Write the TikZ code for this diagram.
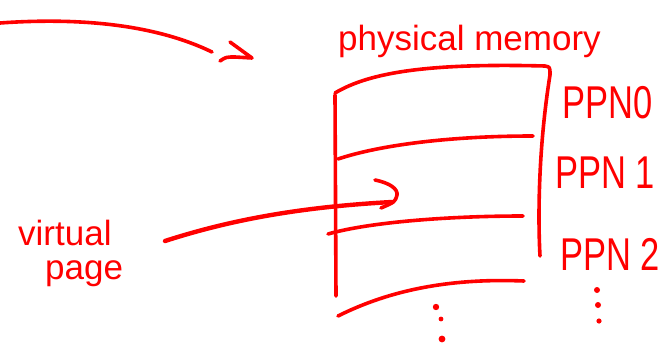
\documentclass[tikz,border=0pt]{standalone}
\usepackage{fontspec}
\setmainfont{Liberation Sans}
\newfontfamily\ppnfont[FakeStretch=0.75]{Liberation Sans}
\definecolor{penred}{RGB}{255,0,0}
\tikzset{
  pen/.style={draw=penred, line width=3.6pt, line cap=round, line join=round},
  hand/.style={text=penred, inner sep=0pt, anchor=base west, font=\fontsize{35}{40}\selectfont},
  ppn/.style={text=penred, inner sep=0pt, anchor=base west, font=\ppnfont\fontsize{46}{50}\selectfont}
}
\begin{document}
\begin{tikzpicture}[x=1pt,y=-1pt]
\useasboundingbox (0,0) rectangle (665,343);

% labels
\node[hand] (phys) at (338,50) {physical memory};
\node[hand] (virt) at (18,245) {virtual};
\node[hand] (page) at (45,279) {page};
\node[ppn] (ppn0) at (562,118) {PPN0};
\node[ppn] (ppn1) at (555,188) {PPN 1};
\node[ppn] (ppn2) at (560,270) {PPN 2};

% free ends
\coordinate (inL) at (0,23);
\coordinate (inR) at (212,52);
\coordinate (vstart) at (165,241);
\coordinate (vend) at (392,202);

% incoming arrow, top left
\draw[pen] (inL) .. controls (70,18) and (150,22) .. (inR);
\draw[pen] (230,42) -- (252,58) -- (235,57) .. controls (226,57) .. (220,61);

% memory box
\draw[pen] (335,93) .. controls (370,72) and (430,63) .. (545,66)
  .. controls (550,67) .. (550,75) .. controls (538,150) and (538,220) .. (540,256);
\draw[pen] (335,95) -- (336,296);
\draw[pen] (338,159) .. controls (380,145) and (450,136) .. (533,136);
\draw[pen] (328,234) .. controls (370,222) and (450,216) .. (523,216);
\draw[pen] (338,316) .. controls (390,290) and (450,278) .. (524,281);

% virtual page -> frame
\draw[pen, line width=4.4pt] (vstart) .. controls (230,220) and (300,207) .. (vend);
\draw[pen] (375,180) .. controls (390,183) and (398,189) .. (397,195)
  .. controls (395,202) .. (381,208);

% dots
\foreach \x/\y/\r in {436/307/3.2, 441/319/2.4, 442/339/3.4, 597/290/3, 598/305/3, 599/321/2.6}{
  \fill[penred] (\x,\y) circle (\r);
}
\end{tikzpicture}
\end{document}
